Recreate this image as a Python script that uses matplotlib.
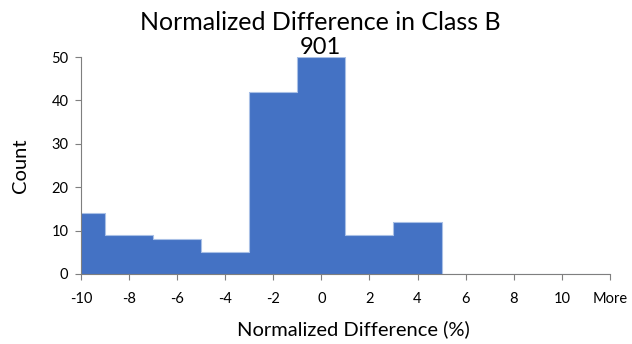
import matplotlib.pyplot as plt

bins = ['-10', '-8', '-6', '-4', '-2', '0', '2', '4', '6', '8', '10', 'More']
counts = [14, 9, 8, 5, 42, 50, 9, 12, 0, 0, 0, 0]

plt.rcParams['font.family'] = ['Lato', 'DejaVu Sans']

fig = plt.figure(figsize=(6.32, 3.44), dpi=100)
ax = fig.add_axes([0.128, 0.2035, 0.837, 0.6305])

x = list(range(len(bins)))
ax.bar(x, counts, width=1.0, color='#4472C4', linewidth=0)
# light outline along the top of the histogram, like the Excel export
ax.step(x, counts, where='mid', color='#A9C0E6', linewidth=0.8)

ax.set_xlim(0, len(bins) - 1)
ax.set_ylim(0, 50)
ax.set_xticks(x)
ax.set_xticklabels(bins)
ax.set_yticks(range(0, 51, 10))

for s in ['top', 'right']:
    ax.spines[s].set_visible(False)
for s in ['left', 'bottom']:
    ax.spines[s].set_color('#7f7f7f')
    ax.spines[s].set_linewidth(0.8)
    ax.spines[s].set_zorder(3)
ax.tick_params(axis='both', colors='#7f7f7f', length=4, width=0.8, labelsize=10.5,
               labelcolor='black', direction='out')
ax.tick_params(axis='x', pad=9)
ax.tick_params(axis='y', pad=5)

ax.set_xlabel('Normalized Difference (%)', fontsize=14.5, labelpad=10)
ax.xaxis.label.set_x(0.515)
ax.set_ylabel('Count', fontsize=14.5, labelpad=16)
fig.text(0.507, 0.912, 'Normalized Difference in Class B', ha='center', va='baseline', fontsize=18)
fig.text(0.507, 0.842, '901', ha='center', va='baseline', fontsize=17)

plt.savefig('out.png', dpi=100)
